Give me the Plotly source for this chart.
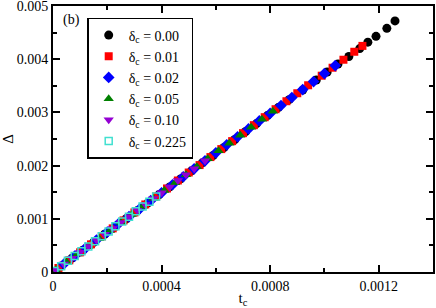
import plotly.graph_objects as go

# delta_c = 0.00
t_000 = [0.00003,0.00007,0.00011,0.00015,0.00019,0.00023,0.00027,0.00031,0.00035,0.00039,
         0.00043,0.00047,0.00051,0.00055,0.00059,0.00063,0.00067,0.00071,0.00075,0.00079,
         0.00083,0.00087,0.00092,0.00097,0.00101,0.00105,0.00109,0.00113,0.00116,0.00119,
         0.00123,0.00126]
d_000 = [0.00011,0.00026,0.00041,0.00056,0.00071,0.00086,0.00100,0.00115,0.00130,0.00145,
         0.00160,0.00175,0.00190,0.00205,0.00219,0.00234,0.00249,0.00264,0.00279,0.00294,
         0.00309,0.00324,0.00342,0.00361,0.00376,0.00391,0.00405,0.00420,0.00432,0.00443,
         0.00458,0.00472]
# delta_c = 0.01
t_001 = [0.00002,0.00006,0.00010,0.00014,0.00018,0.00022,0.00026,0.00030,0.00034,0.00038,
         0.00042,0.00046,0.00050,0.00054,0.00058,0.00062,0.00066,0.00070,0.00074,0.00078,
         0.00082,0.00086,0.00090,0.00094,0.00099,0.00103,0.00107,0.00111,0.00114]
d_001 = [0.000075,0.00022,0.00037,0.00052,0.00067,0.00082,0.00097,0.00112,0.00127,0.00142,
         0.00157,0.00172,0.00187,0.00201,0.00216,0.00231,0.00246,0.00261,0.00276,0.00291,
         0.00306,0.00321,0.00336,0.00351,0.00369,0.00384,0.00399,0.00414,0.00425]
# delta_c = 0.02
t_002 = [0.00004,0.00008,0.00012,0.00016,0.00020,0.00024,0.00028,0.00032,0.00036,0.00040,
         0.00044,0.00048,0.00052,0.00056,0.00060,0.00064,0.00068,0.00072,0.00076,0.00080,
         0.00084,0.00088,0.00092,0.00096,0.00100,0.00104]
d_002 = [0.00015,0.00030,0.00045,0.00060,0.00075,0.00090,0.00104,0.00119,0.00134,0.00149,
         0.00164,0.00179,0.00194,0.00209,0.00224,0.00239,0.00254,0.00269,0.00284,0.00298,
         0.00313,0.00328,0.00343,0.00358,0.00373,0.00388]
# delta_c = 0.05
t_005 = [0.00001,0.00005,0.00009,0.00013,0.00017,0.00021,0.00025,0.00029,0.00033,0.00037,
         0.00041,0.00045,0.00049,0.00053,0.00057,0.00061,0.00065,0.00069,0.00073,0.00077,
         0.00081]
d_005 = [0.00004,0.00019,0.00034,0.00048,0.00063,0.00078,0.00093,0.00108,0.00123,0.00138,
         0.00153,0.00168,0.00183,0.00198,0.00213,0.00228,0.00242,0.00257,0.00272,0.00287,
         0.00302]
# delta_c = 0.10
t_010 = [0.00001,0.00004,0.00007,0.00010,0.00013,0.00016,0.00019,0.00022,0.00025,0.00028,
         0.00031,0.00034,0.00037,0.00040,0.00043,0.00046,0.00049,0.00052,0.00056]
d_010 = [0.00004,0.00015,0.00026,0.00037,0.00048,0.00060,0.00071,0.00082,0.00093,0.00104,
         0.00116,0.00127,0.00138,0.00149,0.00160,0.00172,0.00183,0.00194,0.00209]
# delta_c = 0.225
t_0225 = [0.000005,0.00003,0.000055,0.00008,0.000105,0.00013,0.000155,0.00018,0.000205,0.00023,
          0.000255,0.00028,0.000305,0.00033,0.000355,0.00038]
d_0225 = [0.00002,0.00011,0.00021,0.00030,0.00039,0.00048,0.00058,0.00067,0.00076,0.00086,
          0.00095,0.00104,0.00114,0.00123,0.00132,0.00142]

labels = ["0.00", "0.01", "0.02", "0.05", "0.10", "0.225"]
xs = [t_000, t_001, t_002, t_005, t_010, t_0225]
ys = [d_000, d_001, d_002, d_005, d_010, d_0225]
colors = ["black", "red", "blue", "green", "#9400d3", "#40e0d0"]
symbols = ["circle", "square", "diamond", "triangle-up", "triangle-down", "square-open"]
sizes = [9, 8, 9, 9, 9, 7]

x_tickvals = [0, 0.0004, 0.0008, 0.0012]
x_ticktext = ["0", "0.0004", "0.0008", "0.0012"]
y_tickvals = [0, 0.001, 0.002, 0.003, 0.004, 0.005]
y_ticktext = ["0", "0.001", "0.002", "0.003", "0.004", "0.005"]

FONT = "serif"
fig = go.Figure()
for x, y, lab, c, s, sz in zip(xs, ys, labels, colors, symbols, sizes):
    fig.add_trace(go.Scatter(
        x=x, y=y, mode="markers", name=f"δ<sub>c</sub> = {lab}",
        marker=dict(color=c, symbol=s, size=sz,
                    line=dict(width=1.5 if s == "square-open" else 0, color=c)),
    ))

axis_common = dict(showgrid=False, zeroline=False, showline=True, linecolor="black",
                   linewidth=2, mirror="ticks", ticks="inside", ticklen=7,
                   tickwidth=1.5, tickcolor="black", automargin=False,
                   ticklabeloverflow="allow",
                   tickfont=dict(family=FONT, size=14, color="black"))
fig.update_layout(
    width=436, height=308,
    margin=dict(l=53, r=3, t=6, b=36),
    paper_bgcolor="white", plot_bgcolor="white",
    font=dict(family=FONT, size=14, color="black"),
    xaxis=dict(range=[0, 0.0014], tickvals=x_tickvals, ticktext=x_ticktext,
               minor=dict(dtick=0.0002, tick0=0, ticks="inside", ticklen=4, tickcolor="black", tickwidth=1.5),
               title=dict(text="t<sub>c</sub>", standoff=0, font=dict(family=FONT, size=15)),
               **axis_common),
    yaxis=dict(range=[0, 0.0050001], tickvals=y_tickvals, ticktext=y_ticktext,
               minor=dict(dtick=0.0005, tick0=0, ticks="inside", ticklen=4, tickcolor="black", tickwidth=1.5),
               title=dict(text="Δ", standoff=6, font=dict(family=FONT, size=15)),
               **axis_common),
    legend=dict(x=0.09, y=0.955, xanchor="left", yanchor="top",
                bordercolor="black", borderwidth=1.5, bgcolor="white",
                font=dict(family=FONT, size=14), itemwidth=30, tracegroupgap=0,
                traceorder="normal"),
    showlegend=True,
    annotations=[dict(text="(b)", xref="paper", yref="paper", x=0.02, y=0.985,
                      xanchor="left", yanchor="top", showarrow=False,
                      font=dict(family=FONT, size=14, color="black"))],
)
fig.write_html("out.html", config={"displayModeBar": False},
               post_script="document.body.style.margin='0';document.body.style.padding='0';")
